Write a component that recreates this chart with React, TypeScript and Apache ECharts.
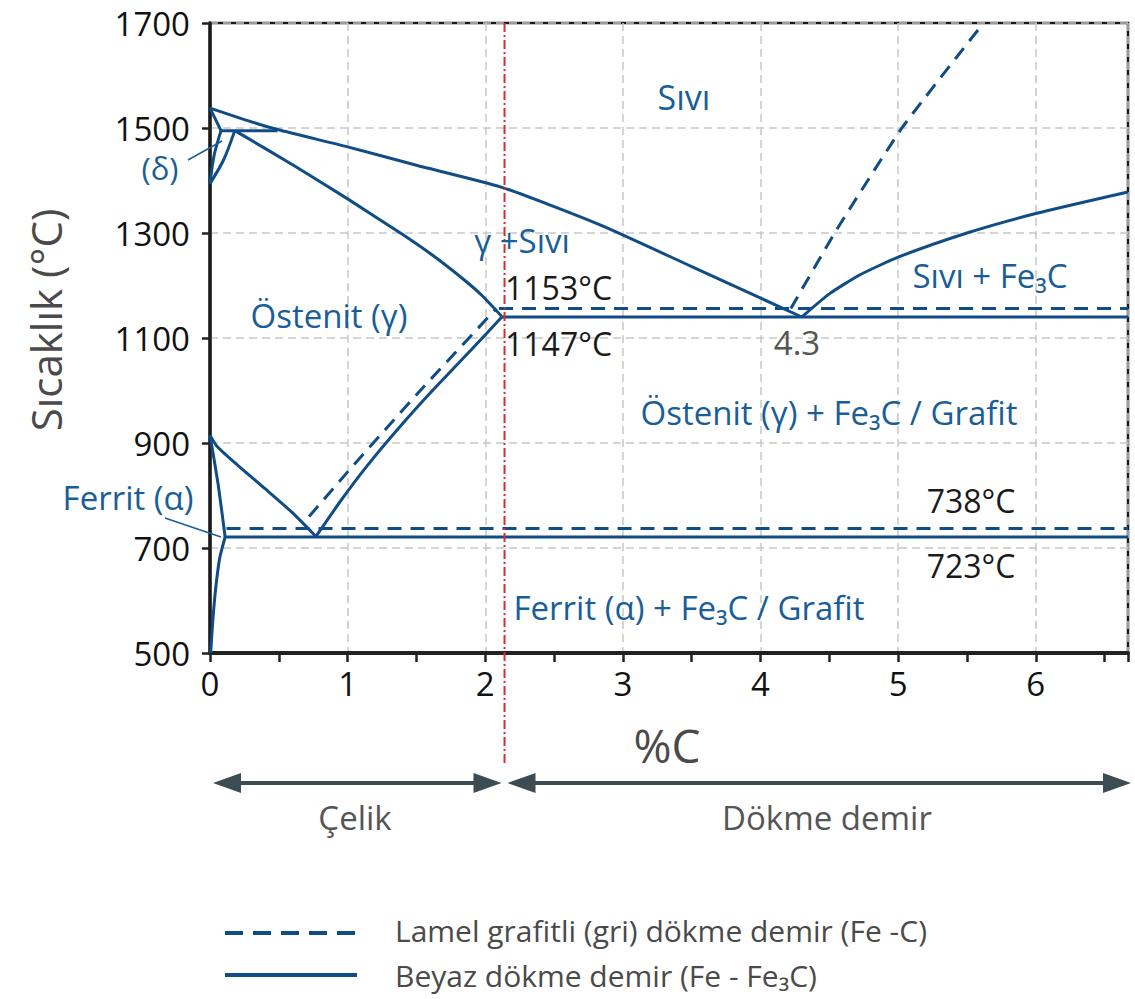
import React, { useEffect, useRef } from "react";
import * as echarts from "echarts";

// ---- axes ----
const X_MIN = 0;
const X_MAX = 6.67;
const Y_MIN = 500;
const Y_MAX = 1700;
const Y_STEP = 200;
const X_STEP = 1;
const X_MINOR_STEP = 0.5;
const steelLimit = 2.14; // %C, steel / cast iron border

// ---- white cast iron (Fe - Fe3C), solid lines ----
const liquidusLeft = [[0, 1538], [0.25, 1516], [0.49, 1497], [1.0, 1464], [1.5, 1429], [2.12, 1387], [2.83, 1316], [3.5, 1236], [4.3, 1140]];
const gammaSolidus = [[0.18, 1495], [0.6, 1430], [1.0, 1365], [1.4, 1297], [1.62, 1257], [1.85, 1210], [1.98, 1180], [2.12, 1141]];
const deltaSolidus = [[0, 1538], [0.08, 1495]];
const peritectic = [[0.08, 1495], [0.49, 1495]];
const deltaGammaA = [[0, 1394], [0.03, 1448], [0.08, 1495]];
const deltaGammaB = [[0, 1394], [0.1, 1440], [0.18, 1495]];
const eutecticSolid = [[2.12, 1140], [6.67, 1140]];
const liquidusFe3C = [[4.3, 1140], [4.5, 1184], [4.72, 1220], [5.0, 1254], [5.5, 1300], [6.0, 1337], [6.67, 1378]];
const a3Line = [[0, 915], [0.05, 894], [0.2, 858], [0.4, 813], [0.6, 767], [0.77, 722]];
const acmSolid = [[0.77, 722], [0.95, 790], [1.14, 856], [1.4, 937], [1.62, 1001], [1.9, 1078], [2.12, 1140]];
const alphaBoundary = [[0, 915], [0.06, 820], [0.11, 721]];
const ferriteSolvus = [[0.005, 500], [0.02, 560], [0.04, 620], [0.07, 680], [0.11, 721]];
const eutectoidSolid = [[0.11, 721], [6.67, 721]];

// ---- grey cast iron (Fe - C), dashed lines ----
const acmDashed = [[0.72, 760], [1.0, 845], [1.5, 992], [2.08, 1156]];
const eutecticDashed = [[2.1, 1156], [6.67, 1156]];
const liquidusGraphite = [[4.22, 1156], [4.55, 1305], [5.03, 1501], [5.62, 1700]];
const eutectoidDashed = [[0.12, 737], [6.67, 737]];

const DASH_NAME = "Lamel grafitli (gri) dökme demir (Fe -C)";
const SOLID_NAME = "Beyaz dökme demir (Fe - Fe₃C)";

const LINE = "#104c85";
const TEXT_BLUE = "#1a5e98";
const FONT = "'Open Sans', 'Noto Sans', sans-serif";

const solidSets = [liquidusLeft, gammaSolidus, deltaSolidus, peritectic, deltaGammaA, deltaGammaB, eutecticSolid, liquidusFe3C, a3Line, acmSolid, alphaBoundary, ferriteSolvus, eutectoidSolid];
const smoothFlags = [0.2, 0.2, 0, 0, 0.3, 0.3, 0, 0.2, 0.2, 0.15, 0.15, 0.25, 0];
const dashedSets = [acmDashed, eutecticDashed, liquidusGraphite, eutectoidDashed];
const dashedSmooth = [0.15, 0, 0.15, 0];

export default function App() {
  const ref = useRef<HTMLDivElement>(null);

  useEffect(() => {
    const chart = echarts.init(ref.current!, null, { renderer: "svg" });
    const series: any[] = [];
    solidSets.forEach((d, i) => {
      series.push({
        type: "line", name: SOLID_NAME, data: d, smooth: smoothFlags[i], symbol: "none",
        lineStyle: { color: LINE, width: 3, type: "solid" }, itemStyle: { color: LINE },
        xAxisIndex: 0, yAxisIndex: 0, silent: true, z: 3,
      });
    });
    dashedSets.forEach((d, i) => {
      series.push({
        type: "line", name: DASH_NAME, data: d, smooth: dashedSmooth[i], symbol: "none",
        lineStyle: { color: LINE, width: 3, type: [14, 9] }, itemStyle: { color: LINE },
        xAxisIndex: 0, yAxisIndex: 0, silent: true, z: 3,
      });
    });

    chart.setOption({
      animation: false,
      backgroundColor: "#ffffff",
      grid: { left: 210, top: 23, width: 918, height: 630, show: true, borderColor: "#1a1a1a", borderWidth: 2.5, containLabel: false },
      xAxis: [
        {
          type: "value", min: X_MIN, max: X_MAX, interval: X_STEP, position: "bottom",
          axisLine: { show: true, lineStyle: { color: "#222", width: 4 } },
          axisTick: { show: false },
          axisLabel: {
            show: true, margin: 14, color: "#111", fontSize: 33, fontFamily: FONT, showMaxLabel: false,
            formatter: (v: number) => (Math.abs(v - Math.round(v)) < 1e-6 ? String(Math.round(v)) : ""),
          },
          splitLine: { show: true, lineStyle: { color: "#c8c8c8", width: 1.5, type: [8, 5] } },
        },
        {
          type: "value", min: X_MIN, max: X_MAX, interval: X_MINOR_STEP, position: "bottom", gridIndex: 0,
          axisLine: { show: false },
          axisTick: { show: true, length: 9, lineStyle: { color: "#222", width: 2.5 } },
          axisLabel: { show: false },
          splitLine: { show: false },
        },
      ],
      yAxis: {
        type: "value", min: Y_MIN, max: Y_MAX, interval: Y_STEP,
        axisLine: { show: true, lineStyle: { color: "#1a1a1a", width: 3.5 } },
        axisTick: { show: true, length: 8, lineStyle: { color: "#222", width: 2.5 } },
        axisLabel: { margin: 20, color: "#111", fontSize: 33, lineHeight: 32, fontFamily: FONT, formatter: (v: number) => String(v) },
        splitLine: { show: true, lineStyle: { color: "#c8c8c8", width: 1.5, type: [8, 5] } },
      },
      series,
    });

    const px = (x: number, y: number) => chart.convertToPixel({ xAxisIndex: 0, yAxisIndex: 0 }, [x, y]) as number[];
    const top = px(steelLimit, Y_MAX);
    const left = px(X_MIN, Y_MIN);
    const right = px(X_MAX, Y_MIN);
    const arrowY = 783;
    const arrowColor = "#3d4b53";

    const arrow = (x1: number, x2: number) => {
      const head = 28, hw = 10;
      return [
        { type: "line", shape: { x1: x1 + head - 4, y1: arrowY, x2: x2 - head + 4, y2: arrowY }, style: { stroke: arrowColor, lineWidth: 4 } },
        { type: "polygon", shape: { points: [[x1, arrowY], [x1 + head, arrowY - hw], [x1 + head, arrowY + hw]] }, style: { fill: arrowColor } },
        { type: "polygon", shape: { points: [[x2, arrowY], [x2 - head, arrowY - hw], [x2 - head, arrowY + hw]] }, style: { fill: arrowColor } },
      ];
    };

    const txt = (text: string, x: number, y: number, color: string, size: number, align = "center", rotation = 0, lineHeight?: number) => ({
      type: "text", x, y, rotation,
      style: { text, fill: color, fontSize: size, fontFamily: FONT, align, verticalAlign: "middle", ...(lineHeight ? { lineHeight } : {}) },
      z: 10,
    });

    const graphics: any[] = [
      // steel / cast-iron divider
      { type: "line", shape: { x1: top[0], y1: top[1], x2: top[0], y2: 765 }, style: { stroke: "#d62d2d", lineWidth: 2, lineDash: [9, 3, 2, 3] }, z: 8 },
      ...arrow(left[0] + 3, top[0] - 3),
      ...arrow(top[0] + 3, right[0] + 3),
      // leader lines
      { type: "line", shape: { x1: 188, y1: 160, x2: 222, y2: 141 }, style: { stroke: TEXT_BLUE, lineWidth: 1.5 }, z: 9 },
      { type: "line", shape: { x1: 165, y1: 518, x2: 221, y2: 537 }, style: { stroke: TEXT_BLUE, lineWidth: 1.5 }, z: 9 },
      // phase region labels
      txt("Sıvı", 684, 97, TEXT_BLUE, 34),
      txt("γ +Sıvı", 522, 240, TEXT_BLUE, 33),
      txt("Östenit (γ)", 329, 315, TEXT_BLUE, 33),
      txt("Sıvı + Fe₃C", 990, 275, TEXT_BLUE, 33),
      txt("Östenit (γ) + Fe₃C / Grafit", 829, 412, TEXT_BLUE, 33),
      txt("Ferrit (α) + Fe₃C / Grafit", 689, 607, TEXT_BLUE, 33),
      txt("Ferrit (α)", 128, 497, TEXT_BLUE, 33),
      txt("(δ)", 160, 168, TEXT_BLUE, 31, "center", 0, 30),
      // temperature labels
      txt("1153°C", 505, 287, "#1a1a1a", 32, "left"),
      txt("1147°C", 505, 343, "#1a1a1a", 32, "left"),
      txt("4.3", 797, 342, "#555555", 33),
      txt("738°C", 971, 500, "#1a1a1a", 32),
      txt("723°C", 971, 565, "#1a1a1a", 32),
      // axis titles
      txt("%C", 667, 745, "#4a4a4a", 46),
      txt("Sıcaklık (°C)", 45, 320, "#4a4a4a", 42, "center", Math.PI / 2),
      txt("Çelik", 355, 817, "#555555", 33),
      txt("Dökme demir", 827, 817, "#555555", 33),
      // legend
      { type: "line", shape: { x1: 225, y1: 933, x2: 357, y2: 933 }, style: { stroke: LINE, lineWidth: 4, lineDash: [18, 10] } },
      { type: "line", shape: { x1: 225, y1: 975, x2: 357, y2: 975 }, style: { stroke: LINE, lineWidth: 4 } },
      txt(DASH_NAME, 395, 930, "#4a4a4a", 30, "left"),
      txt(SOLID_NAME, 395, 975, "#4a4a4a", 30, "left"),
    ];

    chart.setOption({ graphic: graphics });

    return () => chart.dispose();
  }, []);

  return <div ref={ref} style={{ position: "fixed", left: 0, top: 0, width: 1135, height: 999 }} />;
}
